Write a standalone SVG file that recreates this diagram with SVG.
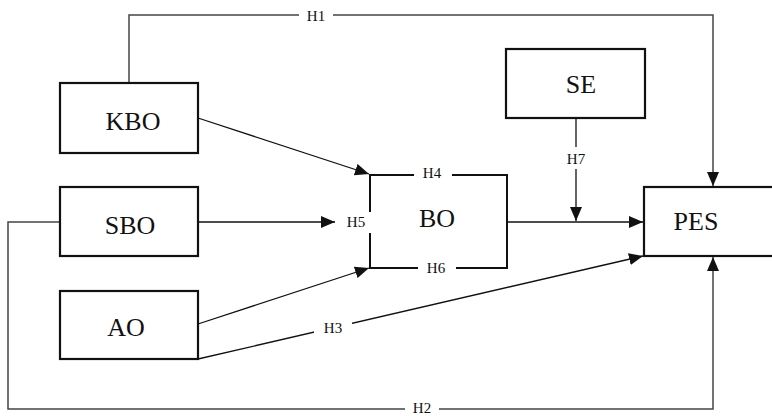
<svg xmlns="http://www.w3.org/2000/svg" width="772" height="416" viewBox="0 0 772 416">
<style>
.box{fill:#fff;stroke:#111;stroke-width:2.2}
.node{font-family:"Liberation Serif","Times New Roman",serif;font-size:26px;fill:#111;text-anchor:middle}
.lbl{font-family:"Liberation Serif","Times New Roman",serif;font-size:15px;fill:#111;text-anchor:middle}
.c{fill:none;stroke:#111;stroke-width:1.3}
.g{fill:none;stroke:#444;stroke-width:1.5}
.br{fill:none;stroke:#111;stroke-width:2}
.bg{fill:#fff}
</style>
<defs>
<marker id="arr" viewBox="0 0 14 12" refX="14" refY="6" markerWidth="14" markerHeight="12" markerUnits="userSpaceOnUse" orient="auto">
<path d="M0,0 L14,6 L0,12 Z" fill="#111"/>
</marker>
</defs>
<rect width="772" height="416" fill="#fff"/>
<g id="connectors">
<path class="g" d="M129,83 V15 H713 V186" marker-end="url(#arr)"/>
<path class="g" d="M60,222 H8 V409 H713 V257" marker-end="url(#arr)"/>
<path class="c" d="M198,118 L369,174" marker-end="url(#arr)"/>
<path class="c" d="M198,222 H335" marker-end="url(#arr)"/>
<path class="c" d="M198,324 L369,268" marker-end="url(#arr)"/>
<path class="c" d="M198,359 L643,256" marker-end="url(#arr)"/>
<path class="c" d="M507,222 H643" marker-end="url(#arr)"/>
<path class="c" d="M576,118 V221" marker-end="url(#arr)"/>
<rect class="bg" x="299" y="6" width="34" height="18"/>
<text class="lbl" x="316" y="21">H1</text>
<rect class="bg" x="405" y="400" width="34" height="16"/>
<text class="lbl" x="422" y="413">H2</text>
<rect class="bg" x="314" y="318" width="38" height="18"/>
<text class="lbl" x="333" y="333">H3</text>
<rect class="bg" x="563" y="147" width="26" height="22"/>
<text class="lbl" x="576" y="164">H7</text>
</g>
<g id="BO">
<path class="br" d="M370,212 V175 H507 V268 H370 V233"/>
<rect class="bg" x="414" y="165" width="38" height="18"/>
<text class="lbl" x="432" y="178">H4</text>
<rect class="bg" x="418" y="260" width="38" height="16"/>
<text class="lbl" x="436" y="273">H6</text>
<text class="lbl" x="356" y="227">H5</text>
<text class="node" x="437" y="227">BO</text>
</g>
<g id="KBO">
<rect class="box" x="60" y="83" width="138" height="70"/>
<text class="node" x="133" y="130">KBO</text>
</g>
<g id="SBO">
<rect class="box" x="60" y="187" width="138" height="69"/>
<text class="node" x="130" y="234">SBO</text>
</g>
<g id="AO">
<rect class="box" x="60" y="291" width="138" height="68"/>
<text class="node" x="126" y="336">AO</text>
</g>
<g id="SE">
<rect class="box" x="506" y="49" width="139" height="69"/>
<text class="node" x="581" y="93">SE</text>
</g>
<g id="PES">
<rect class="box" x="644" y="187" width="140" height="69"/>
<text class="node" x="696" y="230">PES</text>
</g>
</svg>
